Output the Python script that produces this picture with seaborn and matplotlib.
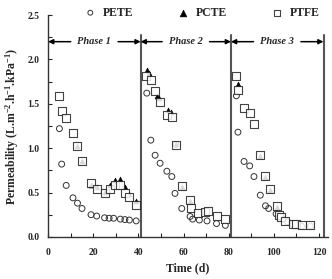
import numpy as np
import pandas as pd
import matplotlib
matplotlib.use('Agg')
import matplotlib.pyplot as plt
import seaborn as sns
from matplotlib.ticker import MultipleLocator

# data
pete_t = [5, 6, 8, 11, 13, 15, 19, 21.5, 25, 27, 29, 32, 34, 36, 39,
          43.7, 45.5, 47.4, 49.6, 52.6, 54.8, 56.2, 56.7, 59.2, 62.9, 64, 67, 70.4, 74.6, 78.5,
          83.4, 84.1, 86.8, 89.3, 91.2, 94, 96.3, 97.7, 101, 102.5, 104, 106, 108.4, 110, 112.3, 116.2]
pete_p = [1.22, 0.82, 0.58, 0.44, 0.38, 0.32, 0.25, 0.235, 0.215, 0.21, 0.21, 0.20, 0.195, 0.19, 0.18,
          1.62, 1.09, 0.92, 0.83, 0.74, 0.68, 0.49, 1.04, 0.32, 0.23, 0.20, 0.19, 0.18, 0.15, 0.13,
          1.59, 1.18, 0.85, 0.80, 0.68, 0.47, 0.35, 0.32, 0.26, 0.23, 0.20, 0.17, 0.14, 0.13, 0.12, 0.12]

pcte_t = [13, 15, 19, 21.5, 25, 27.5, 29.5, 32, 34, 36, 39,
          43.7, 44.8, 48.2, 49.2, 53, 54.3, 56.7, 59.2, 62.9,
          84.1, 94, 96.3, 98.1, 101.3]
pcte_p = [1.02, 0.85, 0.58, 0.56, 0.51, 0.59, 0.64, 0.65, 0.56, 0.48, 0.40,
          1.88, 1.85, 1.59, 1.56, 1.43, 1.41, 1.05, 0.56, 0.40,
          1.72, 0.91, 0.68, 0.53, 0.34]

ptfe_t = [5, 6, 8, 11, 13, 15, 19, 21.5, 25, 27.5, 29.5, 32, 34, 36, 39,
          43.3, 45.5, 47.4, 49.6, 52.5, 54.8, 56.7, 59.2, 62.9, 63.3, 66.5, 69.5, 71, 74.6, 78.5,
          83.4, 84.1, 86.8, 89.3, 91.2, 94, 96.3, 98.1, 101.3, 102.5, 103.2, 105, 108.4, 110, 112.3, 116.2]
ptfe_p = [1.59, 1.42, 1.34, 1.17, 1.02, 0.85, 0.61, 0.54, 0.50, 0.54, 0.58, 0.58, 0.50, 0.45, 0.36,
          1.81, 1.77, 1.64, 1.52, 1.37, 1.35, 1.03, 0.57, 0.41, 0.32, 0.27, 0.28, 0.29, 0.23, 0.20,
          1.81, 1.65, 1.45, 1.40, 1.27, 0.92, 0.69, 0.54, 0.35, 0.25, 0.22, 0.18, 0.14, 0.14, 0.135, 0.135]

phase_bounds = [0, 41, 81, 122]
phase_names = ['Phase 1', 'Phase 2', 'Phase 3']

sns.set_style('ticks')
plt.rcParams['font.family'] = ['Liberation Serif', 'DejaVu Serif']
plt.rcParams['font.weight'] = 'bold'
plt.rcParams['mathtext.fontset'] = 'custom'
plt.rcParams['mathtext.rm'] = 'Liberation Serif:bold'
plt.rcParams['mathtext.bf'] = 'Liberation Serif:bold'
plt.rcParams['mathtext.default'] = 'bf'

fig = plt.figure(figsize=(3.32, 2.79), dpi=100)
ax = fig.add_axes([0.145, 0.151, 0.843, 0.795])

sns.scatterplot(x=pete_t, y=pete_p, marker='o', s=18, facecolor='none',
                edgecolor='#333333', linewidth=0.7, label='PETE', ax=ax, zorder=3)
sns.scatterplot(x=pcte_t, y=pcte_p, marker='^', s=13, color='black',
                edgecolor='black', linewidth=0.4, label='PCTE', ax=ax, zorder=2)
sns.scatterplot(x=ptfe_t, y=ptfe_p, marker='s', s=26, facecolor='white',
                edgecolor='#222222', linewidth=0.8, label='PTFE', ax=ax, zorder=4,
                alpha=0.85)

# phase separators and arrows
for b in phase_bounds[1:]:
    ax.plot([b, b], [0, 2.27], color='#555555', lw=1.5, zorder=1)
for i, name in enumerate(phase_names):
    lo, hi = phase_bounds[i], phase_bounds[i + 1]
    mid = (lo + hi) / 2
    ax.text(mid, 2.2, name, ha='center', va='center', fontsize=7.5,
            style='italic', weight='bold')
    for end, start in [(lo, mid - 10.5), (hi, mid + 10.5)]:
        ax.annotate('', xy=(end, 2.2), xytext=(start, 2.2),
                    arrowprops=dict(arrowstyle='-|>', color='black', lw=1.1,
                                    mutation_scale=7, shrinkA=0, shrinkB=0))

ax.set_xlim(0, 124)
ax.set_ylim(0, 2.5)
ax.xaxis.set_major_locator(MultipleLocator(20))
ax.xaxis.set_minor_locator(MultipleLocator(10))
ax.yaxis.set_major_locator(MultipleLocator(0.5))
ax.yaxis.set_minor_locator(MultipleLocator(0.25))
ax.yaxis.set_major_formatter(matplotlib.ticker.FormatStrFormatter('%.1f'))
ax.tick_params(which='both', direction='in', labelsize=7, width=0.8)
ax.tick_params(which='major', length=3)
ax.tick_params(which='minor', length=3)
ax.tick_params(axis='x', pad=8)
ax.tick_params(axis='y', pad=6)
sns.despine(ax=ax)
for sp in ['left', 'bottom']:
    ax.spines[sp].set_linewidth(1.0)
    ax.spines[sp].set_color('#333333')

ax.set_xlabel('Time (d)', fontsize=8.5, weight='bold', labelpad=4)
ax.set_ylabel(r'Permeability (L.m$^{-2}$.h$^{-1}$.kPa$^{-1}$)', fontsize=8.5,
              weight='bold', labelpad=5)

leg = ax.legend(loc='center', bbox_to_anchor=(0.54, 1.01), ncol=3, frameon=False,
                fontsize=8.5, handletextpad=0.1, columnspacing=3.2,
                borderaxespad=0)
for h, sz in zip(leg.legend_handles, [12, 24, 16]):
    h.set_sizes([sz])

fig.savefig('out.png', dpi=100)
